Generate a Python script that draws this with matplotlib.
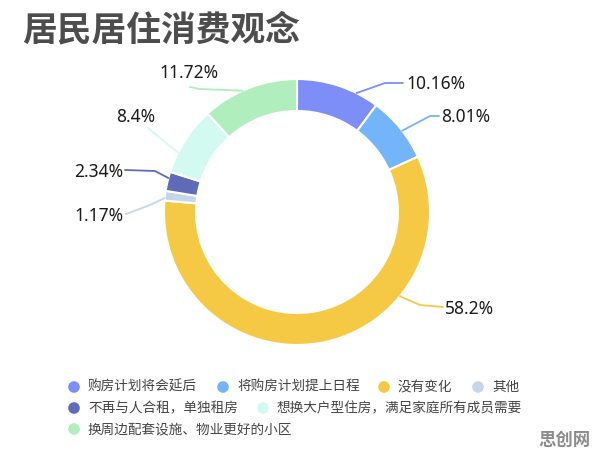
import matplotlib
matplotlib.use("Agg")
import matplotlib.pyplot as plt
import numpy as np

# --- Data ---
categories = ["购房计划将会延后", "将购房计划提上日程", "没有变化", "其他",
              "不再与人合租，单独租房", "想换大户型住房，满足家庭所有成员需要",
              "换周边配套设施、物业更好的小区"]
values = [10.16, 8.01, 58.2, 1.17, 2.34, 8.4, 11.72]
value_labels = ["10.16%", "8.01%", "58.2%", "1.17%", "2.34%", "8.4%", "11.72%"]
colors = ["#7D8EF8", "#73B5F8", "#F6C945", "#C5D5EA", "#5F6BB9", "#D3FAF1", "#B0EEBD"]

# --- Layout (pixel coords, y downwards) ---
W, H = 596, 458
cx, cy, R, ring = 297, 212, 133, 32
# leader line: anchor angle on ring (deg, clockwise from top), elbow, end, text pos, alignment
anchor_deg = [26.6, 52.3, 129.3, 276, 284.8, 296.6, 335.8]
elbows = [(385, 83), (430, 116), (420, 305), (150, 205), (155, 171), (160, 138), (200, 89)]
ends = [(403, 83), (439, 116), (443, 307), (126, 214), (125, 170), (148, 128), (190, 87)]
text_pos = [(406, 84), (441, 117), (445, 309), (124, 216), (123, 172), (136, 117), (189, 73)]
text_ha = ["left", "left", "left", "right", "right", "center", "center"]

legend_rows = [[0, 1, 2, 3], [4, 5], [6]]
legend_x = [[88, 237, 398, 492], [88, 277], [88]]
legend_y = [387, 408, 429]

fig = plt.figure(figsize=(W / 100, H / 100), dpi=100)
ax = fig.add_axes([0, 0, 1, 1])

ax.pie(values, colors=colors, startangle=-90, counterclock=True,
       center=(cx, cy), radius=R,
       wedgeprops=dict(width=ring, edgecolor="white", linewidth=1.5))
ax.set_xlim(0, W)
ax.set_ylim(H, 0)
ax.set_aspect("equal")
ax.axis("off")

num_font = ["Noto Sans", "Noto Sans CJK SC"]
for i, lab in enumerate(value_labels):
    a = np.deg2rad(anchor_deg[i])
    x0, y0 = cx + R * np.sin(a), cy - R * np.cos(a)
    xs = [x0, elbows[i][0], ends[i][0]]
    ys = [y0, elbows[i][1], ends[i][1]]
    ax.plot(xs, ys, color=colors[i], linewidth=1.3, solid_capstyle="round")
    ax.text(text_pos[i][0], text_pos[i][1], lab, ha=text_ha[i], va="center",
            fontsize=12.5, color="#1a1a1a", family=num_font)

# title
ax.text(22, 30, "居民居住消费观念", ha="left", va="center", fontsize=25,
        fontweight="bold", color="#4d4d4d", family=["Noto Sans CJK SC", "DejaVu Sans"])

# legend
for r, row in enumerate(legend_rows):
    for j, idx in enumerate(row):
        tx = legend_x[r][j]
        ax.scatter([tx - 14], [legend_y[r]], s=70, color=colors[idx], edgecolors="none")
        ax.text(tx, legend_y[r], categories[idx], ha="left", va="center",
                fontsize=9.8, color="#444444", family=["Noto Sans CJK SC", "DejaVu Sans"])

# watermark
ax.text(590, 440, "思创网", ha="right", va="center", fontsize=12.5, fontweight="bold",
        color="#8c8c8c", family=["Noto Sans CJK SC", "DejaVu Sans"])

fig.savefig("out.png", dpi=100)
plt.close(fig)
